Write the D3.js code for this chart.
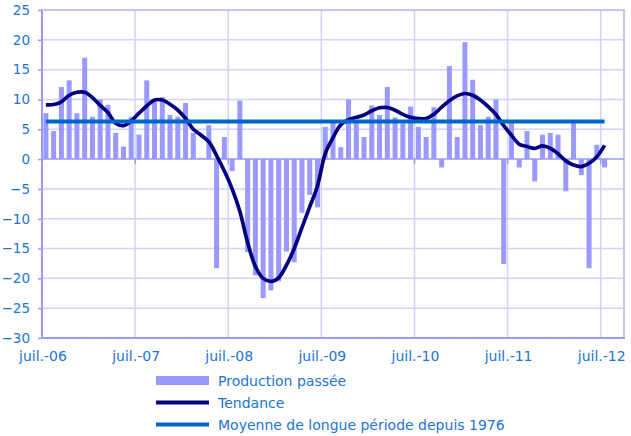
<!DOCTYPE html>
<html>
<head>
<meta charset="utf-8">
<script src="https://cdn.jsdelivr.net/npm/d3@7"></script>
<style>
  body { margin: 0; background: #fff; }
  svg { display: block; }
  text { font-family: "DejaVu Sans", sans-serif; fill: #2274d6; }
</style>
</head>
<body>
<svg id="chart" width="631" height="436"></svg>
<script>
// monthly values, juil.-06 .. juil.-12
const production = [
  7.7, 4.7, 12.1, 13.2, 7.7, 17.0, 7.1, 10.0, 9.1, 4.4, 2.1, 7.1,
  4.1, 13.2, 9.6, 10.4, 7.4, 7.1, 9.4, 4.4, 0.2, 5.7, -18.3, 3.7,
  -2.0, 9.8, -15.6, -19.5, -23.3, -22.0, -20.5, -15.5, -17.3, -9.0, -6.0, -8.1,
  5.4, 6.5, 2.0, 10.0, 6.6, 3.7, 9.0, 7.4, 12.1, 7.0, 6.0, 8.8,
  5.4, 3.7, 8.7, -1.4, 15.6, 3.7, 19.6, 13.3, 5.7, 7.1, 10.0, -17.6,
  6.1, -1.4, 4.7, -3.75, 4.1, 4.4, 4.1, -5.4, 6.1, -2.7, -18.3, 2.4,
  -1.4
];
const tendance = [
  9.1, 9.15, 9.6, 10.7, 11.2, 11.2, 10.3, 9.0, 7.8, 6.0, 5.6, 6.4,
  7.7, 8.9, 9.9, 9.9, 9.2, 8.2, 6.8, 5.0, 4.0, 2.9, 0.6, -2.0,
  -5.0, -8.8, -14.0, -18.0, -20.0, -20.5, -19.9, -17.8, -15.0, -11.5, -8.0, -4.5,
  0.9, 3.6, 5.75, 6.6, 7.0, 7.4, 8.1, 8.6, 8.65, 8.2, 7.5, 7.0,
  6.8, 6.8, 7.5, 8.7, 9.8, 10.6, 11.0, 10.7, 9.9, 8.8, 7.5, 5.6,
  4.0, 2.5, 2.1, 1.8, 2.2, 1.8, 0.9, -0.3, -1.0, -1.25, -0.7, 0.4,
  2.3
];
const moyenne = 6.3;
const xLabels = ['juil.-06', 'juil.-07', 'juil.-08', 'juil.-09', 'juil.-10', 'juil.-11', 'juil.-12'];
const yTicks = [-30, -25, -20, -15, -10, -5, 0, 5, 10, 15, 20, 25];
const legendLabels = ['Production passée', 'Tendance', 'Moyenne de longue période depuis 1976'];

const svg = d3.select('#chart');
const mLeft = 42, mRight = 624, mTop = 10, mBottom = 338;
const nMonths = 75; // date axis runs a little past juil.-12

const x = d3.scaleBand()
  .domain(d3.range(nMonths))
  .range([mLeft, mRight]);
const y = d3.scaleLinear()
  .domain([-30, 25])
  .range([mBottom, mTop]);
const cx = i => x(i) + x.step() / 2;

// grid
const grid = svg.append('g').attr('class', 'grid');
grid.selectAll('line.h')
  .data(yTicks.filter(v => v !== 0 && v !== -30))
  .enter().append('line')
  .attr('class', 'h')
  .attr('x1', mLeft).attr('x2', mRight)
  .attr('y1', d => y(d)).attr('y2', d => y(d))
  .attr('stroke', '#d2d2fa').attr('stroke-width', 1.5);
grid.selectAll('line.v')
  .data(xLabels.slice(1))
  .enter().append('line')
  .attr('class', 'v')
  .attr('x1', (d, i) => x((i + 1) * 12)).attr('x2', (d, i) => x((i + 1) * 12))
  .attr('y1', mTop).attr('y2', mBottom)
  .attr('stroke', '#d2d2fa').attr('stroke-width', 1.5);
// right border
grid.append('line')
  .attr('x1', mRight).attr('x2', mRight).attr('y1', mTop).attr('y2', mBottom)
  .attr('stroke', '#c4c4f6').attr('stroke-width', 2);

// bars
const bw = 5;
svg.append('g').attr('class', 'bars')
  .selectAll('rect')
  .data(production)
  .enter().append('rect')
  .attr('x', (d, i) => cx(i) - bw / 2)
  .attr('width', bw)
  .attr('y', d => y(Math.max(0, d)))
  .attr('height', d => Math.abs(y(d) - y(0)))
  .attr('fill', '#9999ff');

// zero line with ticks
const axisCol = '#9999ff';
svg.append('line')
  .attr('x1', mLeft).attr('x2', mRight).attr('y1', y(0)).attr('y2', y(0))
  .attr('stroke', axisCol).attr('stroke-width', 1.5);
svg.append('g').selectAll('line')
  .data(xLabels)
  .enter().append('line')
  .attr('x1', (d, i) => x(i * 12)).attr('x2', (d, i) => x(i * 12))
  .attr('y1', y(0)).attr('y2', y(0) + 5)
  .attr('stroke', axisCol).attr('stroke-width', 1.5);

// y axis
const yAxis = d3.axisLeft(y).tickValues(yTicks).tickSize(4).tickPadding(8);
const ya = svg.append('g').attr('transform', `translate(${mLeft},0)`).call(yAxis);
ya.select('.domain').remove();
ya.selectAll('.tick line').attr('stroke', axisCol).attr('stroke-width', 1.5);
ya.selectAll('.tick text')
  .attr('font-size', 13.5)
  .attr('font-family', '"DejaVu Sans", sans-serif')
  .attr('fill', '#2274d6');
svg.append('line')
  .attr('x1', mLeft).attr('x2', mLeft).attr('y1', mTop - 1).attr('y2', mBottom + 1)
  .attr('stroke', axisCol).attr('stroke-width', 2);
svg.append('line')
  .attr('x1', mLeft).attr('x2', mRight + 1).attr('y1', mBottom).attr('y2', mBottom)
  .attr('stroke', axisCol).attr('stroke-width', 2);
svg.append('line')
  .attr('x1', mLeft).attr('x2', mRight + 1).attr('y1', mTop).attr('y2', mTop)
  .attr('stroke', '#c4c4f6').attr('stroke-width', 2);

// x labels
svg.append('g').selectAll('text')
  .data(xLabels)
  .enter().append('text')
  .attr('x', (d, i) => x(i * 12) + 1)
  .attr('y', 361)
  .attr('text-anchor', 'middle')
  .attr('font-size', 14)
  .text(d => d);

// lines
const line = d3.line()
  .x((d, i) => cx(i))
  .y(d => y(d))
  .curve(d3.curveCatmullRom.alpha(0.5));
svg.append('path')
  .datum(tendance)
  .attr('d', line)
  .attr('fill', 'none')
  .attr('stroke', '#000080')
  .attr('stroke-width', 3.7)
  .attr('stroke-linejoin', 'round');
svg.append('line')
  .attr('x1', cx(0)).attr('x2', cx(production.length - 1))
  .attr('y1', y(moyenne)).attr('y2', y(moyenne))
  .attr('stroke', '#0066cc')
  .attr('stroke-width', 4);

// legend
const legend = svg.append('g').attr('transform', 'translate(156,0)');
const rows = [380.5, 402.5, 424.5];
legend.append('rect')
  .attr('x', 0).attr('y', rows[0] - 4.5).attr('width', 53).attr('height', 9)
  .attr('fill', '#9999ff');
legend.append('line')
  .attr('x1', 0).attr('x2', 53).attr('y1', rows[1]).attr('y2', rows[1])
  .attr('stroke', '#000080').attr('stroke-width', 4);
legend.append('line')
  .attr('x1', 0).attr('x2', 53).attr('y1', rows[2]).attr('y2', rows[2])
  .attr('stroke', '#0066cc').attr('stroke-width', 4);
legend.selectAll('text')
  .data(legendLabels)
  .enter().append('text')
  .attr('x', 62)
  .attr('y', (d, i) => rows[i] + 5)
  .attr('font-size', 14)
  .text(d => d);
</script>
</body>
</html>
